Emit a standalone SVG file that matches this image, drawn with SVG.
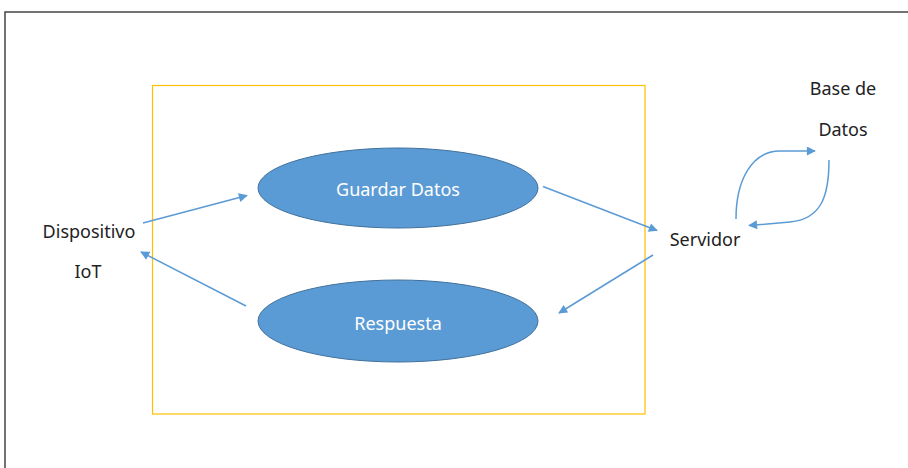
<svg xmlns="http://www.w3.org/2000/svg" width="908" height="468" viewBox="0 0 908 468">
<defs>
<style>
.lbl{font-family:"Noto Sans","Open Sans",sans-serif;font-size:18px;fill:#222;text-anchor:middle}
.in{font-family:"Noto Sans","Open Sans",sans-serif;font-size:18px;fill:#fff;text-anchor:middle}
.ell{fill:#5b9bd5;stroke:#41719c;stroke-width:1}
.con{fill:none;stroke:#5b9bd5;stroke-width:1.5;marker-end:url(#ah)}
</style>
<marker id="ah" viewBox="0 0 10 10" refX="9" refY="5" markerWidth="10" markerHeight="9" markerUnits="userSpaceOnUse" orient="auto">
<path d="M0,0 L10,5 L0,10 z" fill="#5b9bd5"/>
</marker>
</defs>
<rect x="0" y="0" width="908" height="468" fill="#fff"/>
<path d="M5,468 L5,12 L908,12" fill="none" stroke="#444" stroke-width="1.5"/>
<rect id="system" x="152.5" y="85.5" width="492.5" height="328.5" fill="none" stroke="#ffc000" stroke-width="1.2"/>
<g id="connectors">
<path class="con" d="M143,223 L247,195.5"/>
<path class="con" d="M246,306 L141,252"/>
<path class="con" d="M543,186.5 L657,230.5"/>
<path class="con" d="M653,255 L559,313"/>
<path class="con" d="M736,219 C736,180 752,151 780,151 L815,151"/>
<path class="con" d="M829,160 C829,195 822,219 790,222 L749,225.5"/>
</g>
<g id="guardar">
<ellipse class="ell" cx="398" cy="188" rx="140" ry="40"/>
<text class="in" x="398" y="196">Guardar Datos</text>
</g>
<g id="respuesta">
<ellipse class="ell" cx="398" cy="321" rx="140" ry="41"/>
<text class="in" x="398" y="330">Respuesta</text>
</g>
<g id="dispositivo">
<text class="lbl" x="89" y="238">Dispositivo</text>
<text class="lbl" x="88" y="278">IoT</text>
</g>
<g id="servidor">
<text class="lbl" x="705" y="246">Servidor</text>
</g>
<g id="basedatos">
<text class="lbl" x="843" y="95">Base de</text>
<text class="lbl" x="843" y="136">Datos</text>
</g>
</svg>
